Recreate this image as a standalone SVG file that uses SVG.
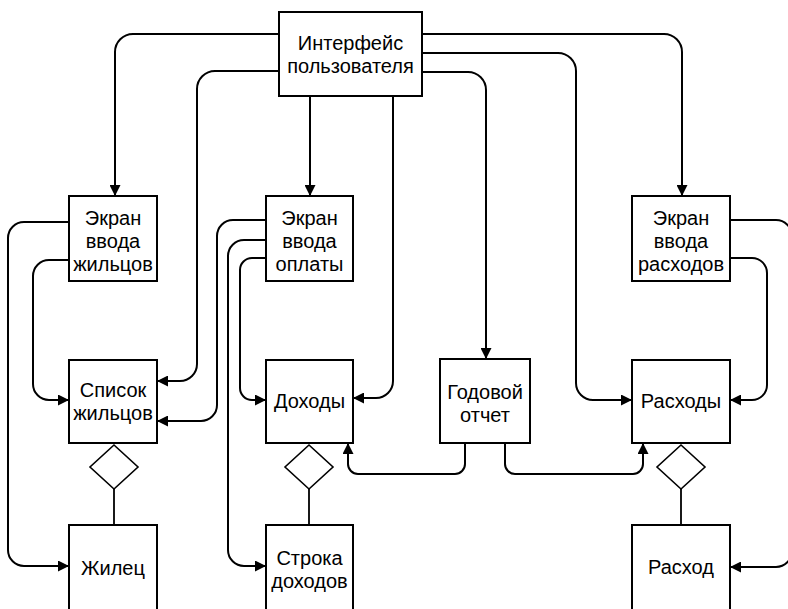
<svg xmlns="http://www.w3.org/2000/svg" width="788" height="609" viewBox="0 0 788 609">
<style>
.box{fill:#fff;stroke:#000;stroke-width:2}
.dia{fill:#fff;stroke:#000;stroke-width:1.6}
.ln{fill:none;stroke:#000;stroke-width:1.8}
.con{fill:none;stroke:#000;stroke-width:2}
text{font-family:"Liberation Sans",Arial,sans-serif;font-size:20px;fill:#000;text-anchor:middle}
</style>
<defs>
<marker id="arr" viewBox="0 0 10 10" refX="10" refY="5" markerWidth="11" markerHeight="11" markerUnits="userSpaceOnUse" orient="auto">
<path d="M0,0 L10,5 L0,10 z" fill="#000"/>
</marker>
</defs>
<rect width="788" height="609" fill="#fff"/>
<g id="connectors" class="con" marker-end="url(#arr)">
<path d="M279,34 H133 A18,18 0 0 0 115,52 V196"/>
<path d="M279,71 H215 A18,18 0 0 0 197,89 V364 A17,17 0 0 1 180,381 H157"/>
<path d="M310,96 V196"/>
<path d="M393,96 V381 A17,17 0 0 1 376,398 H353"/>
<path d="M422,34 H664 A18,18 0 0 1 682,52 V196"/>
<path d="M422,53 H558 A18,18 0 0 1 576,71 V383 A17,17 0 0 0 593,400 H632"/>
<path d="M422,72 H468 A18,18 0 0 1 486,90 V359"/>
<path d="M69,222 H24 A16,16 0 0 0 8,238 V550 A16,16 0 0 0 24,566 H69"/>
<path d="M69,260 H49 A16,16 0 0 0 33,276 V384 A16,16 0 0 0 49,400 H69"/>
<path d="M266,220 H233 A16,16 0 0 0 217,236 V405 A16,16 0 0 1 201,421 H157"/>
<path d="M266,240 H244 A16,16 0 0 0 228,256 V550 A16,16 0 0 0 244,566 H266"/>
<path d="M266,258 H252 A12,12 0 0 0 240,270 V388 A12,12 0 0 0 252,400 H266"/>
<path d="M730,220 H776 A16,16 0 0 1 792,236 V551 A16,16 0 0 1 776,567 H730"/>
<path d="M730,258 H752 A15,15 0 0 1 767,273 V385 A15,15 0 0 1 752,400 H730"/>
<path d="M465,443 V464 A10,10 0 0 1 455,474 H358 A10,10 0 0 1 348,464 V443"/>
<path d="M505,443 V464 A10,10 0 0 0 515,474 H633 A10,10 0 0 0 643,464 V443"/>
</g>
<g id="links">
<path class="ln" d="M114,489 V525"/>
<path class="ln" d="M309,489 V525"/>
<path class="ln" d="M681,489 V525"/>
</g>
<g id="ui"><rect class="box" x="279" y="12" width="143" height="84"/><text x="350.5" y="50">Интерфейс</text><text x="350.5" y="73">пользователя</text></g>
<g id="scr-res"><rect class="box" x="69" y="196" width="88" height="85"/><text x="113" y="225">Экран</text><text x="113" y="248">ввода</text><text x="113" y="271">жильцов</text></g>
<g id="scr-pay"><rect class="box" x="266" y="196" width="87" height="85"/><text x="309.5" y="225">Экран</text><text x="309.5" y="248">ввода</text><text x="309.5" y="271">оплаты</text></g>
<g id="scr-exp"><rect class="box" x="632" y="196" width="98" height="85"/><text x="681" y="225">Экран</text><text x="681" y="248">ввода</text><text x="681" y="271">расходов</text></g>
<g id="res-list"><rect class="box" x="69" y="360" width="88" height="83"/><text x="113" y="397">Список</text><text x="113" y="420">жильцов</text></g>
<g id="income"><rect class="box" x="266" y="360" width="87" height="83"/><text x="309.5" y="408">Доходы</text></g>
<g id="report"><rect class="box" x="440" y="359" width="90" height="84"/><text x="485" y="399">Годовой</text><text x="485" y="422">отчет</text></g>
<g id="expenses"><rect class="box" x="632" y="360" width="98" height="83"/><text x="681" y="408">Расходы</text></g>
<g id="d1"><polygon class="dia" points="114,445 138,467 114,489 90,467"/></g>
<g id="d2"><polygon class="dia" points="309,445 333,467 309,489 285,467"/></g>
<g id="d3"><polygon class="dia" points="681,445 705,467 681,489 657,467"/></g>
<g id="resident"><rect class="box" x="69" y="525" width="88" height="100"/><text x="113" y="575">Жилец</text></g>
<g id="income-row"><rect class="box" x="266" y="525" width="87" height="100"/><text x="309.5" y="565">Строка</text><text x="309.5" y="588">доходов</text></g>
<g id="expense"><rect class="box" x="632" y="525" width="98" height="100"/><text x="681" y="574">Расход</text></g>
</svg>
